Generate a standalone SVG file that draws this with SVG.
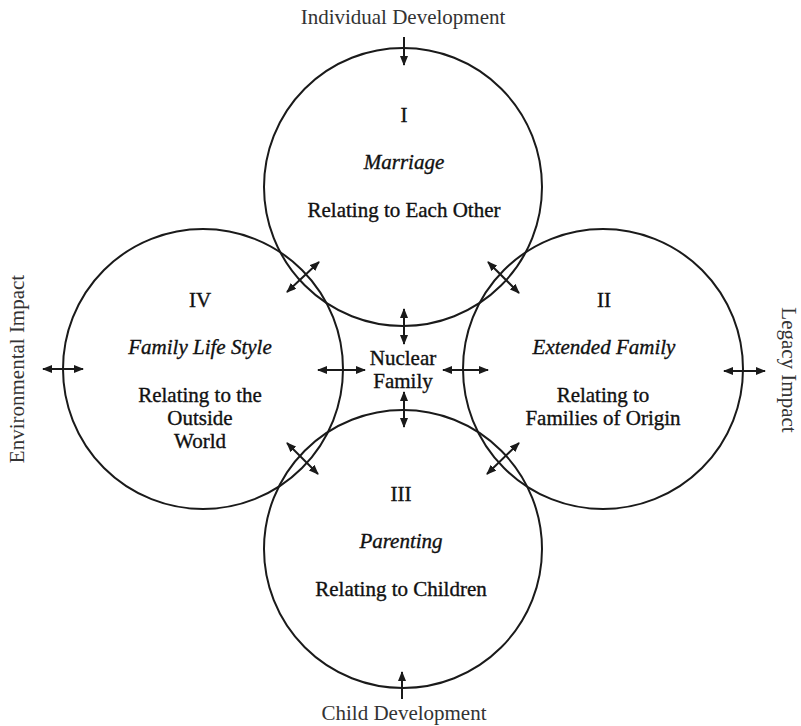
<svg xmlns="http://www.w3.org/2000/svg" width="801" height="726" viewBox="0 0 801 726">
  <defs>
    <marker id="head" viewBox="0 0 10 8" markerUnits="userSpaceOnUse" markerWidth="10" markerHeight="8" refX="9" refY="4" orient="auto-start-reverse">
      <path d="M0,0 L10,4 L0,8 Z" fill="#1a1a1a"/>
    </marker>
  </defs>
  <style>
    .ring { fill: none; stroke: #1a1a1a; stroke-width: 2; }
    .arrow { fill: none; stroke: #1a1a1a; stroke-width: 2; marker-end: url(#head); }
    .both { marker-start: url(#head); }
    .t { font-family: "Liberation Serif", "Times New Roman", serif; font-size: 21px; fill: #111; stroke: #111; stroke-width: 0.35; text-anchor: middle; }
    .it { font-style: italic; }
    .outer { font-family: "Liberation Serif", "Times New Roman", serif; font-size: 21px; fill: #333; text-anchor: middle; }
  </style>

  <rect width="801" height="726" fill="#fff"/>

  <!-- the four overlapping relationship circles -->
  <g id="marriage">
    <circle class="ring" cx="403" cy="187" r="139"/>
    <text class="t" x="404" y="122">I</text>
    <text class="t it" x="404" y="169">Marriage</text>
    <text class="t" x="404" y="217">Relating to Each Other</text>
  </g>

  <g id="family-life-style">
    <circle class="ring" cx="203" cy="369" r="140"/>
    <text class="t" x="200" y="307">IV</text>
    <text class="t it" x="200" y="354">Family Life Style</text>
    <text class="t" x="200" y="402">Relating to the</text>
    <text class="t" x="200" y="425">Outside</text>
    <text class="t" x="200" y="448">World</text>
  </g>

  <g id="extended-family">
    <circle class="ring" cx="603" cy="369" r="140"/>
    <text class="t" x="604" y="307">II</text>
    <text class="t it" x="604" y="354">Extended Family</text>
    <text class="t" x="603" y="402">Relating to</text>
    <text class="t" x="603" y="425">Families of Origin</text>
  </g>

  <g id="parenting">
    <circle class="ring" cx="403" cy="549" r="139"/>
    <text class="t" x="401" y="501">III</text>
    <text class="t it" x="401" y="548">Parenting</text>
    <text class="t" x="401" y="596">Relating to Children</text>
  </g>

  <g id="nuclear-family">
    <text class="t" x="403" y="365">Nuclear</text>
    <text class="t" x="403" y="388">Family</text>
  </g>

  <!-- outside influences -->
  <g id="individual-development">
    <text class="outer" x="403" y="24">Individual Development</text>
  </g>
  <g id="child-development">
    <text class="outer" x="404" y="720">Child Development</text>
  </g>
  <g id="environmental-impact">
    <text class="outer" transform="translate(24,369) rotate(-90)">Environmental Impact</text>
  </g>
  <g id="legacy-impact">
    <text class="outer" transform="translate(782,370) rotate(90)">Legacy Impact</text>
  </g>

  <!-- connectors -->
  <g id="connectors">
    <!-- external influences -->
    <line class="arrow" x1="404" y1="37" x2="404" y2="65"/>
    <line class="arrow" x1="402" y1="699" x2="402" y2="672"/>
    <line class="arrow both" x1="43" y1="369" x2="83" y2="369"/>
    <line class="arrow both" x1="724" y1="371" x2="765" y2="371"/>

    <!-- nuclear family to each circle -->
    <line class="arrow both" x1="404" y1="309" x2="404" y2="344"/>
    <line class="arrow both" x1="404" y1="392" x2="404" y2="427"/>
    <line class="arrow both" x1="318" y1="370" x2="365" y2="370"/>
    <line class="arrow both" x1="443" y1="370" x2="488" y2="370"/>

    <!-- across the overlaps -->
    <line class="arrow both" x1="287" y1="292" x2="319" y2="262"/>
    <line class="arrow both" x1="488" y1="262" x2="519" y2="293"/>
    <line class="arrow both" x1="287" y1="443" x2="318" y2="474"/>
    <line class="arrow both" x1="519" y1="443" x2="487" y2="474"/>
  </g>
</svg>
